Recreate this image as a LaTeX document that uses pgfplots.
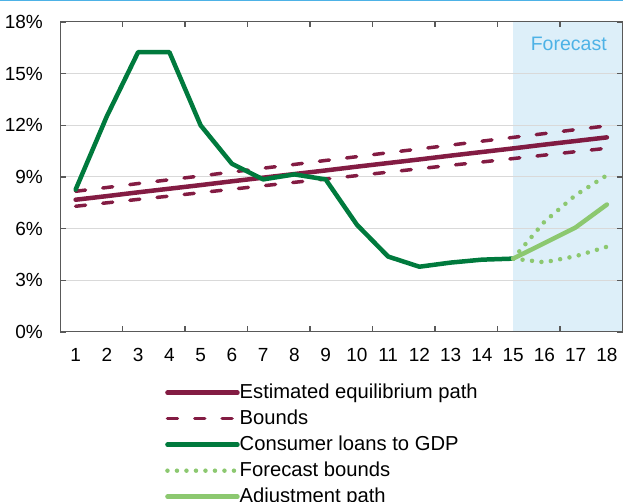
\documentclass[border=0pt]{standalone}
\usepackage{pgfplots}
\pgfplotsset{compat=1.18}
\usetikzlibrary{calc}
\usepackage{fontspec}
\setmainfont{Liberation Sans}
\definecolor{maroon}{HTML}{7A0B35}
\definecolor{dgreen}{HTML}{007A3D}
\definecolor{lgreen}{HTML}{8CC870}
\definecolor{shade}{HTML}{DDEFF9}
\definecolor{fcblue}{HTML}{4DB2E6}
\definecolor{axgray}{HTML}{595959}
\definecolor{gridgray}{HTML}{D9D9D9}
\begin{document}
\begin{tikzpicture}
\begin{axis}[
  name=ax, set layers,
  scale only axis, width=562.5pt, height=310pt,
  xmin=0.5, xmax=18.5, ymin=0, ymax=18,
  font=\fontsize{19}{22}\selectfont,
  /pgf/number format/assume math mode=true,
  axis line style={draw=axgray, line width=1pt},
  tick align=inside, major tick length=5.5pt,
  tick style={draw=axgray, line width=1.5pt},
  xtick={2.5,4.5,...,16.5}, xticklabels={},
  extra x ticks={1,2,3,4,5,6,7,8,9,10,11,12,13,14,15,16,17,18},
  extra x tick labels={1,2,3,4,5,6,7,8,9,10,11,12,13,14,15,16,17,18},
  extra x tick style={major tick length=0pt, grid=none},
  xticklabel style={anchor=north, inner sep=0pt, yshift=-16pt},
  ytick={0,3,...,18},
  yticklabel={\pgfmathprintnumber{\tick}\%},
  yticklabel style={anchor=east, inner sep=0pt, xshift=-17pt},
  ymajorgrids, grid style={draw=gridgray, line width=1pt},
  legend style={at={(0.1867,-0.1645)}, anchor=north west, draw=none, fill=none, inner sep=0pt,
    row sep=7pt, column sep=0pt,
    nodes={inner sep=0pt, text height=15pt, text depth=4pt, anchor=west},
    font=\fontsize{20.2}{23}\selectfont},
  legend cell align=left,
  legend image code/.code={\draw[#1] (0pt,0pt) -- (70pt,0pt);},
  every axis plot/.append style={line join=round, line cap=round},
]
\addplot[fill=shade, draw=none, on layer=axis background, forget plot] coordinates {(15,18) (18.5,18)} \closedcycle;

\addplot[maroon, draw opacity=0.93, line width=4.5pt] coordinates {
(1,7.68) (2,7.89) (3,8.11) (4,8.32) (5,8.53) (6,8.75) (7,8.96) (8,9.17) (9,9.38)
(10,9.60) (11,9.81) (12,10.02) (13,10.24) (14,10.45) (15,10.66) (16,10.88) (17,11.09) (18,11.30)};
\addlegendentry{Estimated equilibrium path}

\addplot[maroon, draw opacity=0.93, line width=3.5pt, dash pattern=on 10pt off 17.3pt] coordinates {
(1,8.17) (2,8.39) (3,8.62) (4,8.84) (5,9.06) (6,9.29) (7,9.51) (8,9.73) (9,9.96)
(10,10.18) (11,10.41) (12,10.63) (13,10.85) (14,11.08) (15,11.30) (16,11.52) (17,11.75) (18,11.97)};
\addlegendentry{Bounds}

\addplot[maroon, draw opacity=0.93, line width=3.5pt, dash pattern=on 10pt off 17.3pt, forget plot] coordinates {
(1,7.30) (2,7.50) (3,7.70) (4,7.89) (5,8.09) (6,8.29) (7,8.49) (8,8.69) (9,8.88)
(10,9.08) (11,9.28) (12,9.48) (13,9.68) (14,9.87) (15,10.07) (16,10.27) (17,10.47) (18,10.67)};

\addplot[dgreen, line width=4.5pt] coordinates {
(1,8.27) (2,12.53) (3,16.25) (4,16.25) (5,12.0) (6,9.77) (7,8.86) (8,9.15) (9,8.86)
(10,6.23) (11,4.38) (12,3.79) (13,4.03) (14,4.2) (15,4.26)};
\addlegendentry{Consumer loans to GDP}

\addplot[lgreen, line width=4.5pt, dash pattern=on 0pt off 9.5pt] coordinates {
(15,4.26) (16,6.4) (17,7.95) (18,9.1)};
\addlegendentry{Forecast bounds}

\addplot[lgreen, line width=4.5pt, dash pattern=on 0pt off 9.5pt, forget plot] coordinates {
(15,4.26) (16,4.05) (17,4.4) (18,4.95)};

\addplot[lgreen, line width=4.5pt] coordinates {
(15,4.26) (16,5.16) (17,6.07) (18,7.4)};
\addlegendentry{Adjustment path}

\node[text=fcblue, font=\fontsize{19.5}{22}\selectfont] at (axis cs:16.78,16.7) {Forecast};
\draw[axgray, line width=2pt] (rel axis cs:0,1) -- (rel axis cs:0,0) -- (rel axis cs:1,0);
\end{axis}
\draw[fcblue, line width=1.5pt] ($(ax.south west)+(-60pt,331.25pt)$) -- ++(623pt,0);
\pgfresetboundingbox
\path[use as bounding box] ($(ax.south west)+(-60pt,-170pt)$) rectangle ++(623pt,502pt);
\end{tikzpicture}
\end{document}
